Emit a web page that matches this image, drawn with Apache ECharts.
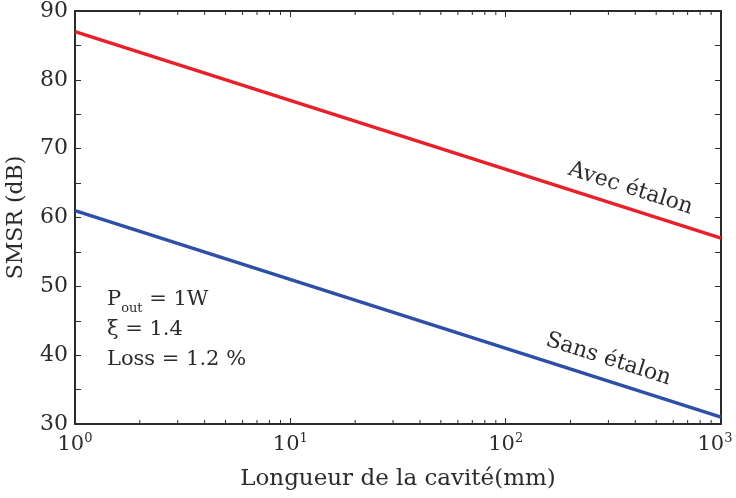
<!DOCTYPE html>
<html>
<head>
<meta charset="utf-8">
<script src="https://cdn.jsdelivr.net/npm/echarts@6/dist/echarts.min.js"></script>
<style>
  html, body { margin: 0; padding: 0; background: #fff; }
  #main { width: 736px; height: 498px; }
</style>
</head>
<body>
<div id="main"></div>
<script>
// cavity length (mm) and SMSR (dB)
var cavityLen = [1, 1000];
var withEtalon = [87, 57];
var withoutEtalon = [61, 31];
var xTicks = [1, 10, 100, 1000];
var annotLines = ['P{sub|out} = 1W', 'ξ = 1.4', 'Loss = 1.2 %'];

var font = 'DejaVu Serif';
var ink = '#2b2b2b';

var chart = echarts.init(document.getElementById('main'));

function pairs(xs, ys) {
    var out = [];
    for (var i = 0; i < xs.length; i++) out.push([xs[i], ys[i]]);
    return out;
}

var xBase = {
    type: 'log',
    logBase: 10,
    min: 1,
    max: 1000,
    axisLine: {lineStyle: {color: ink, width: 2}},
    axisTick: {inside: true, length: 6, lineStyle: {color: ink, width: 1}},
    splitLine: {show: false}
};
var yBase = {
    type: 'value',
    min: 30,
    max: 90,
    interval: 10,
    axisLine: {show: true, lineStyle: {color: ink, width: 2}},
    axisTick: {inside: true, length: 6, lineStyle: {color: ink, width: 1}},
    minorTick: {show: true, splitNumber: 2, length: 6, lineStyle: {color: ink, width: 1}},
    splitLine: {show: false}
};

var option = {
    animation: false,
    backgroundColor: '#fff',
    grid: {left: 75, right: 15, top: 11, bottom: 74, outerBoundsMode: 'none', containLabel: false},
    xAxis: [
        Object.assign({}, xBase, {
            position: 'bottom',
            name: 'Longueur de la cavité(mm)',
            nameLocation: 'middle',
            nameGap: 44,
            nameTextStyle: {fontFamily: font, fontSize: 23, color: ink},
            axisLabel: {
                margin: 8,
                fontFamily: font,
                fontSize: 21,
                color: ink,
                formatter: function (v) {
                    var e = Math.round(Math.log10(v));
                    // last label nudged left so it stays inside the canvas
                    return '10{sup|' + e + '}' + (v >= xTicks[xTicks.length - 1] ? '{pad| }' : '');
                },
                rich: {
                    sup: {fontFamily: font, fontSize: 13, color: ink, verticalAlign: 'top', padding: [0, 0, 12, 0]},
                    pad: {width: 12}
                }
            }
        }),
        Object.assign({}, xBase, {position: 'top', axisLabel: {show: false}})
    ],
    yAxis: [
        Object.assign({}, yBase, {
            position: 'left',
            name: 'SMSR (dB)',
            nameLocation: 'middle',
            nameGap: 48,
            nameTextStyle: {fontFamily: font, fontSize: 22, color: ink},
            axisLabel: {margin: 7, fontFamily: font, fontSize: 22, color: ink}
        }),
        Object.assign({}, yBase, {position: 'right', axisLabel: {show: false}})
    ],
    series: [
        {
            name: 'Avec étalon',
            type: 'line',
            data: pairs(cavityLen, withEtalon),
            symbol: 'none',
            lineStyle: {color: '#e8202a', width: 3.5}
        },
        {
            name: 'Sans étalon',
            type: 'line',
            data: pairs(cavityLen, withoutEtalon),
            symbol: 'none',
            lineStyle: {color: '#2d4fa5', width: 3.5}
        }
    ]
};

chart.setOption(option);

// log minor ticks (2..9 per decade), bottom and top
var elems = [];
var yBot = chart.convertToPixel({yAxisIndex: 0}, 30);
var yTop = chart.convertToPixel({yAxisIndex: 0}, 90);
for (var d = 0; d < xTicks.length - 1; d++) {
    for (var m = 2; m <= 9; m++) {
        var px = chart.convertToPixel({xAxisIndex: 0}, xTicks[d] * m);
        elems.push({type: 'line', shape: {x1: px, y1: yBot, x2: px, y2: yBot - 4}, style: {stroke: ink, lineWidth: 1}});
        elems.push({type: 'line', shape: {x1: px, y1: yTop, x2: px, y2: yTop + 4}, style: {stroke: ink, lineWidth: 1}});
    }
}

// line labels, rotated along the lines
function slopeAngle(ys) {
    var p0 = chart.convertToPixel({xAxisIndex: 0, yAxisIndex: 0}, [cavityLen[0], ys[0]]);
    var p1 = chart.convertToPixel({xAxisIndex: 0, yAxisIndex: 0}, [cavityLen[1], ys[1]]);
    return -Math.atan2(p1[1] - p0[1], p1[0] - p0[0]);
}
function lineLabel(text, at, ys) {
    var p = chart.convertToPixel({xAxisIndex: 0, yAxisIndex: 0}, at);
    elems.push({
        type: 'text', x: p[0], y: p[1], rotation: slopeAngle(ys),
        style: {text: text, fontFamily: font, fontSize: 22, fill: ink, align: 'center', verticalAlign: 'middle'}
    });
}
lineLabel('Avec étalon', [380, 64.2], withEtalon);
lineLabel('Sans étalon', [300, 39.4], withoutEtalon);

// parameter box
elems.push({
    type: 'text', x: 107, y: 285,
    style: {
        text: annotLines.join('\n'),
        fontFamily: font, fontSize: 21, fill: ink, lineHeight: 30,
        rich: {sub: {fontFamily: font, fontSize: 13, fill: ink, verticalAlign: 'bottom', padding: [14, 0, 0, 0]}}
    }
});

chart.setOption({graphic: {elements: elems}});
</script>
</body>
</html>
